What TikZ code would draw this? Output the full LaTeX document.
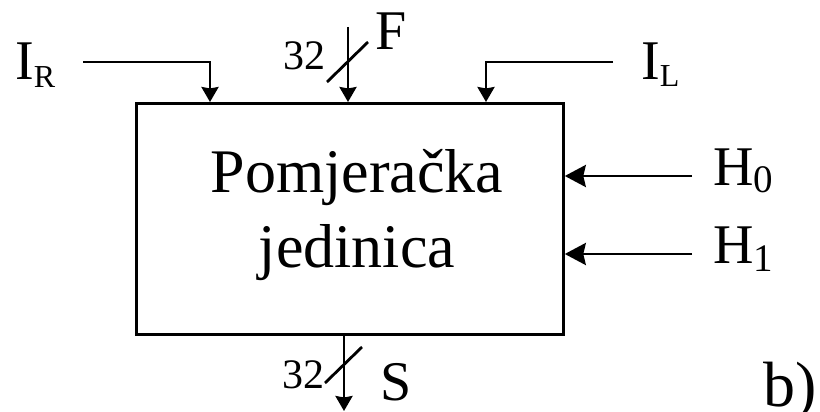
\documentclass[tikz,border=0pt]{standalone}
\usepackage{fontspec}
\setmainfont{Liberation Serif}
\usetikzlibrary{arrows.meta}
\newcommand\lblsub[3][-8pt]{\raisebox{#1}{\fontsize{#2}{#2}\selectfont #3}}
\begin{document}
\begin{tikzpicture}[x=1pt,y=-1pt,
  wire/.style={line width=2.8pt},
  sig/.style={wire,-{Stealth[width=17pt,length=15pt,inset=1.5pt]}},
  bigsig/.style={wire,-{Stealth[width=22pt,length=21pt,inset=2.5pt]}},
  lbl/.style={inner sep=0pt,anchor=base west,font=\fontsize{56}{60}\selectfont},
  small/.style={inner sep=0pt,anchor=base west,font=\fontsize{42}{44}\selectfont},
  main/.style={inner sep=0pt,anchor=base,font=\fontsize{62}{66}\selectfont}]
\useasboundingbox (0,0) rectangle (820,412);
\node[draw,line width=2.8pt,minimum width=427pt,minimum height=231pt,inner sep=0pt,anchor=north west] (box) at (135,102) {};
\node[main] (t1) at (357,192) {Pomjeračka};
\node[main] (t2) at (357,267) {jedinica};
% I_R
\coordinate (irs) at (83,62);
\coordinate (irc) at (210,62);
\draw[sig] (irs) -- (irc) -- (irc |- box.north);
\node[lbl] (ir) at (15,80) {I\lblsub{32}{R}};
% F
\coordinate (fs) at (348,27);
\draw[sig] (fs) -- (fs |- box.north);
\coordinate (fa) at (327,82);
\coordinate (fb) at (368,42);
\draw[wire] (fa) -- (fb);
\node[small] (f32) at (283,70) {32};
\node[lbl] (fl) at (375,50) {F};
% I_L
\coordinate (ils) at (613,62);
\coordinate (ilc) at (486,62);
\draw[sig] (ils) -- (ilc) -- (ilc |- box.north);
\node[lbl] (il) at (641,80) {I\lblsub[-7pt]{32}{L}};
% H0, H1
\coordinate (h0s) at (692,176);
\coordinate (h1s) at (692,254);
\draw[bigsig] (h0s) -- (h0s -| box.east);
\draw[bigsig] (h1s) -- (h1s -| box.east);
\node[lbl] (h0) at (713,185) {H\lblsub[-7pt]{39}{0}};
\node[lbl] (h1) at (713,263) {H\lblsub[-8pt]{39}{1}};
% S
\coordinate (se) at (344,411);
\draw[sig] (se |- box.south) -- (se);
\coordinate (sa) at (325,383);
\coordinate (sb) at (362,347);
\draw[wire] (sa) -- (sb);
\node[small] (s32) at (282,388) {32};
\node[lbl] (sl) at (380,400) {S};
% b)
\node[inner sep=0pt,anchor=base west,font=\fontsize{64}{66}\selectfont] (lb) at (763,406) {b)};
\end{tikzpicture}
\end{document}
